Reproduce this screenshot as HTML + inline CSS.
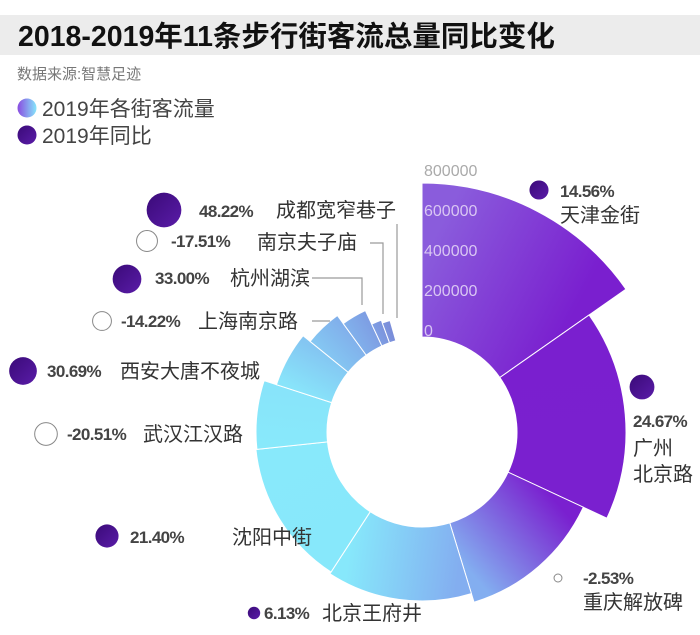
<!DOCTYPE html>
<html><head><meta charset="utf-8"><style>
html,body{margin:0;padding:0;background:#fff;}
body{width:700px;height:635px;overflow:hidden;position:relative;font-family:"Liberation Sans","Noto Sans CJK SC",sans-serif;}
svg{position:absolute;left:0;top:0;}
.pct{font-family:"Liberation Sans",sans-serif;font-weight:bold;font-size:17px;fill:#444;letter-spacing:-0.6px;}
.lab{font-family:"Liberation Sans","Noto Sans CJK SC",sans-serif;font-size:20px;fill:#333;}
</style></head><body>
<svg id="chart" width="700" height="635" viewBox="0 0 700 635">
  <defs>
    <linearGradient id="lg1" x1="0" y1="0" x2="1" y2="0"><stop offset="0" stop-color="#8a4be0"/><stop offset="1" stop-color="#86e6fb"/></linearGradient>
    <linearGradient id="lg2" x1="0" y1="0" x2="1" y2="1"><stop offset="0" stop-color="#3a0a78"/><stop offset="1" stop-color="#5a1ca8"/></linearGradient>
  </defs>
  <rect x="0" y="15" width="700" height="40" fill="#ececec"/>
  <text x="18" y="46" font-size="28.5" font-weight="bold" fill="#111">2018-2019年11条步行街客流总量同比变化</text>
  <text x="17" y="79" font-size="15" fill="#777">数据来源:智慧足迹</text>
  <circle cx="27" cy="108" r="9.5" fill="url(#lg1)"/>
  <text x="42" y="116" font-size="21" fill="#444">2019年各街客流量</text>
  <circle cx="27" cy="135" r="9.5" fill="url(#lg2)"/>
  <text x="42" y="143" font-size="21" fill="#444">2019年同比</text>
  <g id="sectors"></g>
  <g id="axis"></g>
  <g id="leaders" stroke="#9a9a9a" stroke-width="1.2" fill="none">
    <polyline points="397,224 397,318"/>
    <polyline points="370,243 383,243 383,314"/>
    <polyline points="312,278 362,278 362,305"/>
    <polyline points="312,321 330,321"/>
  </g>
  <g id="labels"></g>
</svg>
<script>
const categories=["天津金街","广州北京路","重庆解放碑","北京王府井","沈阳中街","武汉江汉路","西安大唐不夜城","上海南京路","杭州湖滨","南京夫子庙","成都宽窄巷子"];
const flowValues=[770000,545000,415000,370000,360000,355000,290000,245000,195000,120000,105000];
const angleShares=[55,60,48,50,51,24,21,15,11,5,4];
const yoyValues=[14.56,24.67,-2.53,6.13,21.40,-20.51,30.69,-14.22,33.00,-17.51,48.22];
const tickValues=[0,200000,400000,600000,800000];
const tickLabels=["0","200000","400000","600000","800000"];

const NS="http://www.w3.org/2000/svg";
const cx=422,cy=432,r0=95,rMaxPx=160,vMax=800000,span=344;
function rScale(v){return r0+v/vMax*rMaxPx;}
function pt(r,a){const t=a*Math.PI/180;return [cx+r*Math.sin(t),cy-r*Math.cos(t)];}
const cStops=[[0,"#8a5cdc"],[20,"#7a28d0"],[60,"#7a1ecf"],[118,"#7a20cf"],[135,"#7c58d8"],[165,"#84b4f2"],[190,"#86e6fb"],[250,"#88ecfc"],[290,"#88e4fa"],[310,"#84c4f2"],[330,"#80a8e8"],[345,"#7a8ad8"]];
function hex(h){return [1,3,5].map(i=>parseInt(h.substr(i,2),16));}
function colorAt(a){for(let i=0;i<cStops.length-1;i++){const[a0,c0]=cStops[i],[a1,c1]=cStops[i+1];if(a<=a1){const t=(a-a0)/(a1-a0),p=hex(c0),q=hex(c1);return "rgb("+p.map((x,k)=>Math.round(x+(q[k]-x)*t)).join(",")+")";}}return cStops[cStops.length-1][1];}
const totalShare=angleShares.reduce((s,x)=>s+x,0);
const gS=document.getElementById("sectors");
const defs=document.querySelector("defs");
let acc=0;
categories.forEach((c,i)=>{
  const a0=acc/totalShare*span; acc+=angleShares[i]; const a1=acc/totalShare*span;
  const r1=rScale(flowValues[i]);
  const gid="sg"+i,g=document.createElementNS(NS,"linearGradient");
  g.setAttribute("id",gid);g.setAttribute("gradientUnits","userSpaceOnUse");
  const rm=(r0+r1)/2,p0=pt(rm,a0),p1=pt(rm,a1);
  g.setAttribute("x1",p0[0]);g.setAttribute("y1",p0[1]);g.setAttribute("x2",p1[0]);g.setAttribute("y2",p1[1]);
  g.innerHTML='<stop offset="0" stop-color="'+colorAt(a0)+'"/><stop offset="1" stop-color="'+colorAt(a1)+'"/>';
  defs.appendChild(g);
  const A=pt(r0,a0),B=pt(r1,a0),C=pt(r1,a1),D=pt(r0,a1),lg=(a1-a0)>180?1:0;
  const p=document.createElementNS(NS,"path");
  p.setAttribute("d","M"+A+" L"+B+" A"+r1+","+r1+" 0 "+lg+" 1 "+C+" L"+D+" A"+r0+","+r0+" 0 "+lg+" 0 "+A+"Z");
  p.setAttribute("fill","url(#"+gid+")");p.setAttribute("stroke","#fff");p.setAttribute("stroke-width","1");
  
  
  gS.appendChild(p);
});
const gA=document.getElementById("axis");
tickValues.forEach((v,i)=>{
  const t=document.createElementNS(NS,"text");
  t.setAttribute("x",cx+2);t.setAttribute("y",cy-rScale(v)-1);
  t.setAttribute("font-size","16");t.setAttribute("fill",v>=800000?"#aaa":"#d9c6f3");
  t.textContent=tickLabels[i];
  
  
  gA.appendChild(t);
});
const layout=[
 {bx:539,by:190,px:560,py:197,lx:560,ly:222,lines:["天津金街"]},
 {bx:642,by:387,px:633,py:427,lx:633,ly:455,lines:["广州","北京路"]},
 {bx:558,by:578,px:583,py:584,lx:583,ly:609,lines:["重庆解放碑"]},
 {bx:254,by:613,px:264,py:619,lx:322,ly:620,lines:["北京王府井"]},
 {bx:107,by:536,px:130,py:543,lx:232,ly:544,lines:["沈阳中街"]},
 {bx:46,by:434,px:67,py:440,lx:143,ly:441,lines:["武汉江汉路"]},
 {bx:23,by:371,px:47,py:377,lx:120,ly:378,lines:["西安大唐不夜城"]},
 {bx:102,by:321,px:121,py:327,lx:198,ly:328,lines:["上海南京路"]},
 {bx:127,by:279,px:155,py:284,lx:230,ly:285,lines:["杭州湖滨"]},
 {bx:147,by:241,px:171,py:247,lx:257,ly:249,lines:["南京夫子庙"]},
 {bx:164,by:210,px:199,py:217,lx:276,ly:217,lines:["成都宽窄巷子"]}
];
const gL=document.getElementById("labels");
yoyValues.forEach((v,i)=>{
  const L=layout[i],r=Math.max(3.5,Math.sqrt(Math.abs(v))*2.5);
  const c=document.createElementNS(NS,"circle");
  c.setAttribute("cx",L.bx);c.setAttribute("cy",L.by);c.setAttribute("r",r);
  if(v>=0){c.setAttribute("fill","url(#lg2)");}else{c.setAttribute("fill","#fff");c.setAttribute("stroke","#888");c.setAttribute("stroke-width","1");}
  
  
  gL.appendChild(c);
  const t=document.createElementNS(NS,"text");
  t.setAttribute("x",L.px);t.setAttribute("y",L.py);t.setAttribute("class","pct");
  t.textContent=v.toFixed(2)+"%";
  
  
  gL.appendChild(t);
  L.lines.forEach((s,k)=>{
    const n=document.createElementNS(NS,"text");
    n.setAttribute("x",L.lx);n.setAttribute("y",L.ly+k*26);n.setAttribute("class","lab");
    n.textContent=(k===0&&L.lines.length===1)?categories[i]:s;
    
    
    gL.appendChild(n);
  });
});
</script>
</body></html>
